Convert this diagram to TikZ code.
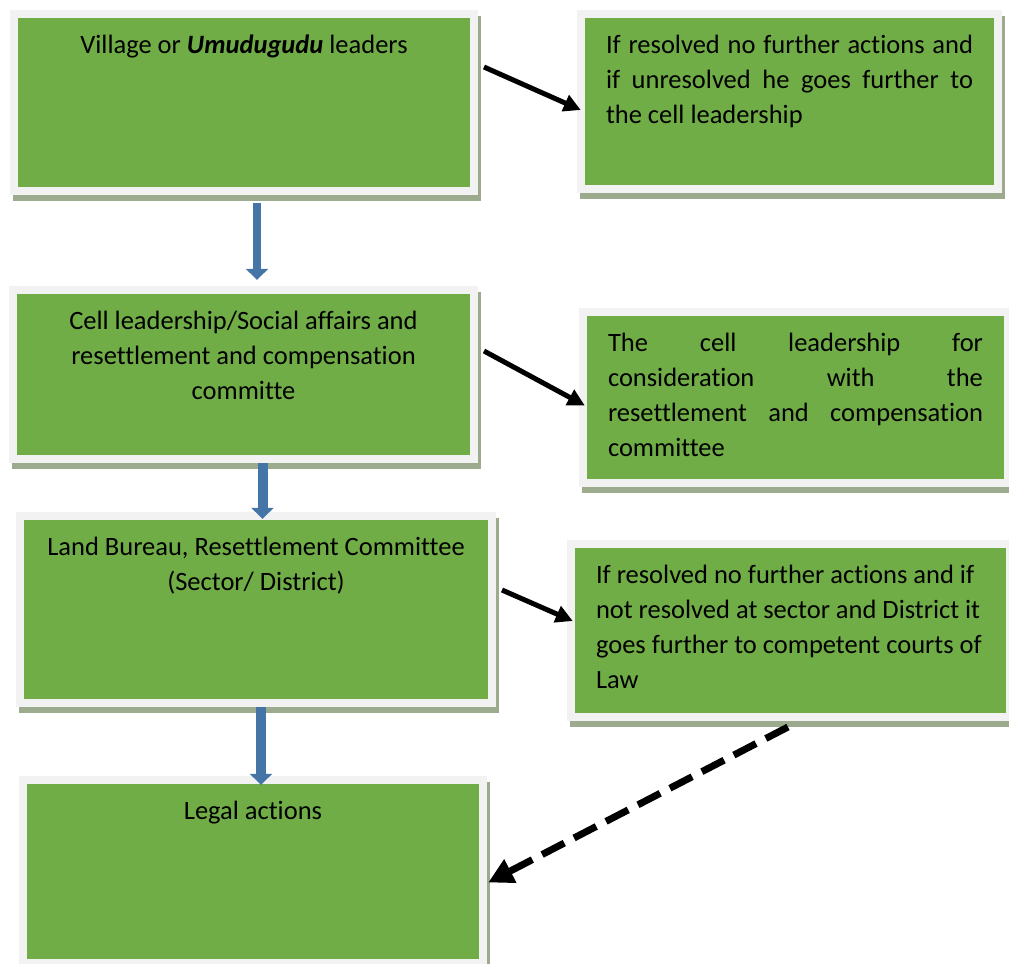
\documentclass[tikz,border=0pt]{standalone}
\usepackage{fontspec}
\setmainfont{Carlito}[Ligatures={NoCommon,NoRequired,NoContextual},Contextuals={NoAlternate}]
\usetikzlibrary{arrows.meta,shadows}
\definecolor{leaf}{RGB}{112,173,71}
\definecolor{rim}{RGB}{242,242,242}
\definecolor{shade}{RGB}{156,170,142}
\definecolor{flowblue}{RGB}{69,116,166}
\hbadness=10000
\newcommand{\boxbody}[4]{\parbox[c][#1][t]{#2}{#3\rule{0pt}{43.5bp}#4}}
\begin{document}
\begin{tikzpicture}[x=1bp,y=-1bp,
    stage/.style={fill=rim,inner sep=0pt,font=\fontsize{26.5bp}{35bp}\selectfont,
      drop shadow={shadow xshift=3bp,shadow yshift=-6bp,fill=shade,opacity=1},
      path picture={\fill[leaf] ([shift={(8bp,8bp)}]path picture bounding box.south west)
        rectangle ([shift={(-8bp,-8bp)}]path picture bounding box.north east);}},
    down/.style={draw=flowblue,line width=10bp,-{Triangle[length=11bp,width=22bp]}},
    push/.style={draw=black,line width=5bp,-{Triangle[length=17bp,width=17bp]}},
    back/.style={draw=black,line width=7bp,dash pattern=on 25bp off 11bp,
      -{Triangle[length=25bp,width=25bp]}}]
  \useasboundingbox (0,0) rectangle (1009,964);

  % left column
  \node[stage,minimum width=468bp,minimum height=185bp] (village) at (244,102.5)
    {\boxbody{185bp}{410bp}{\centering}{Village or \textbf{\textit{Umudugudu}} leaders}};
  \node[stage,minimum width=469bp,minimum height=177bp] (cell) at (243.5,374.5)
    {\boxbody{177bp}{411bp}{\centering}{Cell leadership/Social affairs and\\
      resettlement and compensation\\ committe}};
  \node[stage,minimum width=480bp,minimum height=195bp] (bureau) at (256,609.5)
    {\boxbody{195bp}{422bp}{\centering}{Land Bureau, Resettlement Committee\\
      (Sector/ District)}};
  \node[stage,minimum width=468bp,minimum height=191bp] (legal) at (253,871.5)
    {\boxbody{191bp}{410bp}{\centering}{Legal actions}};

  % right column
  \node[stage,minimum width=425bp,minimum height=183bp] (out1) at (789.5,101.5)
    {\boxbody{183bp}{367bp}{}{If resolved no further actions and\linebreak
      if unresolved he goes further to\linebreak the cell leadership}};
  \node[stage,minimum width=433bp,minimum height=179bp] (out2) at (795.5,397.5)
    {\boxbody{179bp}{375bp}{}{The cell leadership for\linebreak
      consideration with the\linebreak resettlement and compensation\linebreak committee}};
  \node[stage,minimum width=447bp,minimum height=181bp] (out3) at (790.5,630.5)
    {\boxbody{181bp}{389bp}{\raggedright}{If resolved no further actions and if\\
      not resolved at sector and District it\\ goes further to competent courts of\\ Law}};

  % flow down
  \draw[down,line width=8bp,shorten <=8bp,shorten >=6bp]
    ([xshift=13bp]village.south) -- ([xshift=13bp]village.south |- cell.north);
  \draw[down,shorten >=-7bp]
    ([xshift=19bp]cell.south) -- ([xshift=19bp]cell.south |- bureau.north);
  \draw[down,shorten >=-9bp]
    ([xshift=5bp]bureau.south) -- ([xshift=5bp]bureau.south |- legal.north);

  % side arrows
  \coordinate (p1) at (484,67);
  \coordinate (p2) at (484,351);
  \coordinate (p3) at (502,590);
  \coordinate (p4) at (788,727);
  \draw[push] (p1) -- ([shift={(4bp,-8.5bp)}]out1.west);
  \draw[push] (p2) -- ([shift={(6bp,-8bp)}]out2.west);
  \draw[push] (p3) -- ([shift={(6bp,9.5bp)}]out3.west);
  \draw[back] (p4) -- ([shift={(1bp,-11bp)}]legal.east);
\end{tikzpicture}
\end{document}
